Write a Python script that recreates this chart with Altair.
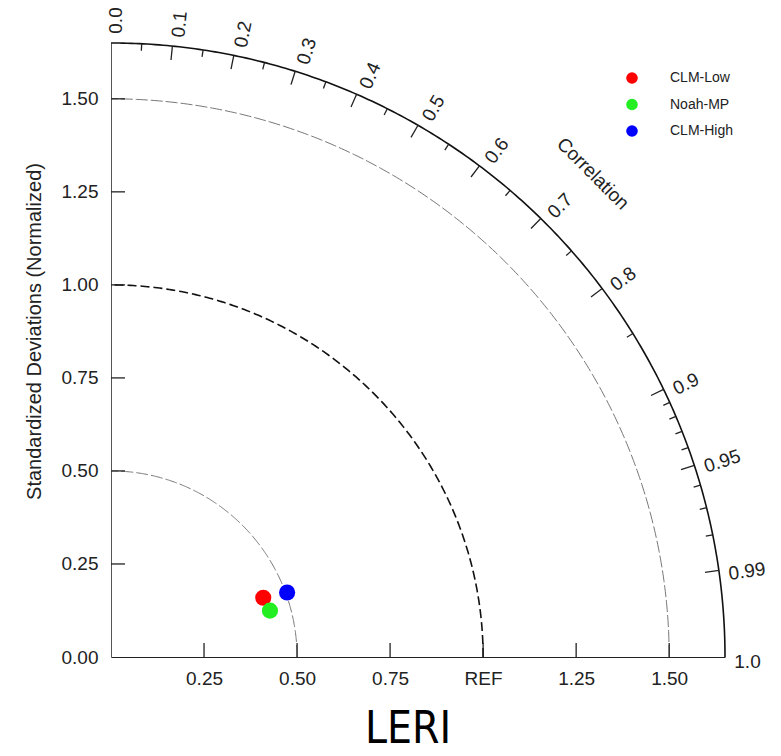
import numpy as np
import pandas as pd
import altair as alt

# ---------------- data ----------------
models = ["CLM-Low", "Noah-MP", "CLM-High"]
std_dev = [0.439, 0.445, 0.504]
correlation = [0.932, 0.960, 0.939]
model_colors = ["#ff0000", "#22ee22", "#0000ff"]

std_ticks = [0.25, 0.5, 0.75, 1.0, 1.25, 1.5]
x_tick_labels = ["0.25", "0.50", "0.75", "REF", "1.25", "1.50"]
y_ticks = [0.0, 0.25, 0.5, 0.75, 1.0, 1.25, 1.5]
y_tick_labels = ["0.00", "0.25", "0.50", "0.75", "1.00", "1.25", "1.50"]

corr_major = [0.0, 0.1, 0.2, 0.3, 0.4, 0.5, 0.6, 0.7, 0.8, 0.9, 0.95, 0.99, 1.0]
corr_major_labels = ["0.0", "0.1", "0.2", "0.3", "0.4", "0.5", "0.6", "0.7",
                     "0.8", "0.9", "0.95", "0.99", "1.0"]
corr_minor = [0.05, 0.15, 0.25, 0.35, 0.45, 0.55, 0.65, 0.75, 0.85,
              0.91, 0.92, 0.93, 0.94, 0.96, 0.97, 0.98]
std_arcs = [0.5, 1.0, 1.5]
r_max = 1.65

# ---------------- derived tables ----------------
FONT = "Liberation Sans"
L_MAJ = 0.0376
L_MIN = 0.019
R_LAB = 1.675

theta_pts = np.linspace(0, np.pi / 2, 241)

arc_rows = []
for r in std_arcs + [r_max]:
    kind = "outer" if r == r_max else ("ref" if r == 1.0 else "grid")
    for i, t in enumerate(theta_pts):
        arc_rows.append({"arc": f"r{r}", "kind": kind, "i": i,
                         "x": r * np.cos(t), "y": r * np.sin(t)})
arcs = pd.DataFrame(arc_rows)

tick_rows = []
for c in corr_major[1:-1]:
    t = np.arccos(c)
    tick_rows.append({"x": r_max * np.cos(t), "y": r_max * np.sin(t),
                      "x2": (r_max - L_MAJ) * np.cos(t), "y2": (r_max - L_MAJ) * np.sin(t)})
for c in corr_minor:
    t = np.arccos(c)
    tick_rows.append({"x": r_max * np.cos(t), "y": r_max * np.sin(t),
                      "x2": (r_max - L_MIN) * np.cos(t), "y2": (r_max - L_MIN) * np.sin(t)})
for v in std_ticks:
    tick_rows.append({"x": v, "y": 0.0, "x2": v, "y2": L_MAJ})
for v in y_ticks[1:]:
    tick_rows.append({"x": 0.0, "y": v, "x2": L_MAJ, "y2": v})
ticks = pd.DataFrame(tick_rows)

lab_rows = []
for c, s in zip(corr_major, corr_major_labels):
    t = np.arccos(c)
    lab_rows.append({"x": R_LAB * np.cos(t), "y": R_LAB * np.sin(t),
                     "ang": (360 - np.degrees(t)) % 360, "txt": s})
corr_labels = pd.DataFrame(lab_rows)

corr_title = pd.DataFrame([{"x": 1.834 * np.cos(np.radians(45.08)),
                            "y": 1.834 * np.sin(np.radians(45.08)),
                            "txt": "Correlation"}])

pts = pd.DataFrame({
    "model": models,
    "x": [s * c for s, c in zip(std_dev, correlation)],
    "y": [s * np.sin(np.arccos(c)) for s, c in zip(std_dev, correlation)],
})

# ---------------- scales / axes ----------------
xs = alt.Scale(domain=[0, r_max], nice=False, zero=True)
ys = alt.Scale(domain=[0, r_max], nice=False, zero=True)

x_axis = alt.Axis(values=std_ticks, labelExpr="datum.value == 1 ? 'REF' : format(datum.value, '.2f')",
                  title=None, ticks=False, grid=False, labelFont=FONT, labelFontSize=19,
                  labelColor="#222", labelPadding=12, domainColor="#222", domainWidth=1.2,
                  labelFlush=False)
y_axis = alt.Axis(values=y_ticks, format=".2f", title="Standardized Deviations (Normalized)",
                  ticks=False, grid=False, labelFont=FONT, labelFontSize=19, labelColor="#222",
                  labelPadding=13, domainColor="#555", domainWidth=1, labelFlush=False,
                  titleFont=FONT, titleFontSize=20, titleFontWeight="normal", titleColor="#222",
                  titleX=-77, titleY=288, titleAlign="center", titleBaseline="middle", titleAngle=270)


def X(f="x"):
    return alt.X(f"{f}:Q", scale=xs, axis=x_axis)


def Y(f="y"):
    return alt.Y(f"{f}:Q", scale=ys, axis=y_axis)


grid_arcs = alt.Chart(arcs[arcs.kind == "grid"]).mark_line(
    color="#777", strokeWidth=1, strokeDash=[12, 3]
).encode(x=X(), y=Y(), detail="arc:N", order="i:Q")

ref_arc = alt.Chart(arcs[arcs.kind == "ref"]).mark_line(
    color="#111", strokeWidth=1.6, strokeDash=[9, 4]
).encode(x=X(), y=Y(), detail="arc:N", order="i:Q")

outer_arc = alt.Chart(arcs[arcs.kind == "outer"]).mark_line(
    color="#111", strokeWidth=1.6
).encode(x=X(), y=Y(), detail="arc:N", order="i:Q")

tick_layer = alt.Chart(ticks).mark_rule(color="#222", strokeWidth=1.3).encode(
    x=X(), y=Y(), x2="x2:Q", y2="y2:Q")

label_layer = alt.Chart(corr_labels).mark_text(
    align="left", baseline="middle", dy=5, font=FONT, fontSize=19, color="#222"
).encode(x=X(), y=Y(), text="txt:N", angle=alt.Angle("ang:Q", scale=None))

title_layer = alt.Chart(corr_title).mark_text(
    align="center", baseline="middle", font=FONT, fontSize=19, color="#222", angle=45
).encode(x=X(), y=Y(), text="txt:N")

point_layer = alt.Chart(pts).mark_circle(size=260, opacity=1).encode(
    x=X(), y=Y(),
    color=alt.Color("model:N", scale=alt.Scale(domain=models, range=model_colors),
                    legend=alt.Legend(orient="none", legendX=514, legendY=28, title=None,
                                      symbolType="circle", symbolSize=135, labelFontSize=14,
                                      labelFont=FONT, labelColor="#222", labelOffset=31,
                                      rowPadding=12.5, padding=0, symbolStrokeWidth=0)),
)

chart = alt.layer(
    grid_arcs, ref_arc, outer_arc, tick_layer, label_layer, title_layer, point_layer
).properties(
    width=614, height=614,
    padding={"left": 111, "top": 43, "right": 56, "bottom": 99},
    autosize=alt.AutoSizeParams(type="none"),
    title=alt.TitleParams("LERI", orient="bottom", anchor="middle", fontSize=44,
                          font="Liberation Sans Narrow, DejaVu Sans Condensed, Liberation Sans",
                          fontWeight="normal", color="black", offset=20, dx=-10),
).configure_view(stroke=None)

chart.save("out.html", embed_options={"renderer": "svg", "actions": False})
